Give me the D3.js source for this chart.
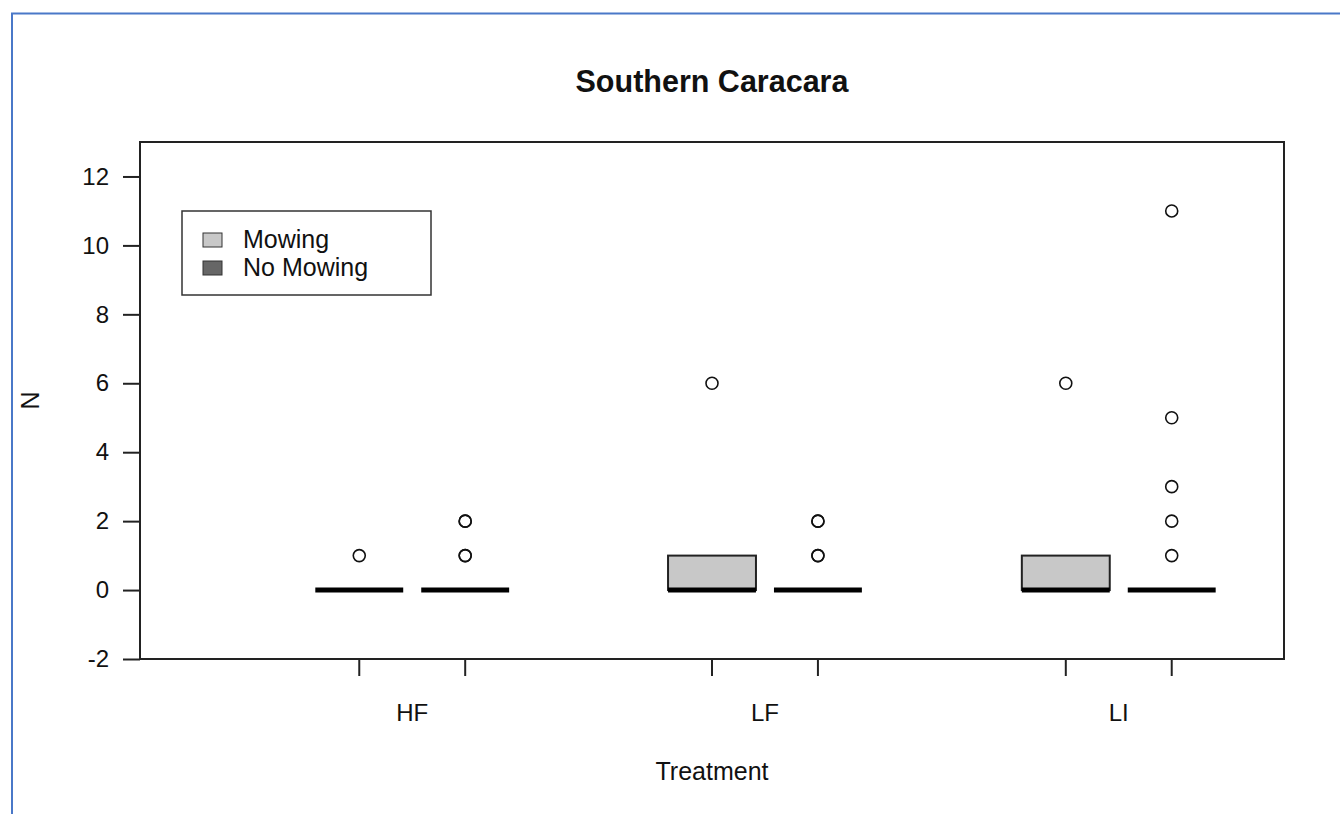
<!DOCTYPE html>
<html>
<head>
<meta charset="utf-8">
<script src="https://cdn.jsdelivr.net/npm/d3@7"></script>
<style>
  body { margin: 0; background: #fff; }
  text { font-family: "Liberation Sans", Arial, sans-serif; fill: #111; }
</style>
</head>
<body>
<div id="canvas"></div>
<script>
(function(){

    // data
    var treatments = ["HF", "LF", "LI"];
    var groups = ["Mowing", "No Mowing"];
    var groupFill = ["#c8c8c8", "#666666"];
    // box stats per treatment: [q1, median, q3] for Mowing and No Mowing
    var mowingBox = [[0, 0, 0], [0, 0, 1], [0, 0, 1]];
    var noMowingBox = [[0, 0, 0], [0, 0, 0], [0, 0, 0]];
    var mowingOutliers = [[1], [6], [6]];
    var noMowingOutliers = [[1, 1, 2, 2], [1, 1, 2, 2], [1, 2, 3, 5, 11]];
    var yTicks = [-2, 0, 2, 4, 6, 8, 10, 12];

    var width = 1340, height = 814;
    var plot = {left: 140, top: 142, right: 1284, bottom: 659};

    var svg = d3.select("#canvas")
                .append("svg")
                .attr("width", width)
                .attr("height", height);

    // outer blue frame
    svg.append("path")
       .attr("d", "M12," + height + "V13.5H" + width)
       .attr("fill", "none")
       .attr("stroke", "#4a78c8")
       .attr("stroke-width", 2);

    var y = d3.scaleLinear().domain([-2, 13]).range([plot.bottom, plot.top]);
    // box positions along x (units of one box spacing)
    var x = d3.scaleLinear().domain([-1.07, 9.73]).range([plot.left, plot.right]);
    var groupStart = [1, 4.33, 7.67];
    var boxW = x(0.83) - x(0);

    // title
    svg.append("text")
       .attr("x", (plot.left + plot.right) / 2)
       .attr("y", 92)
       .attr("text-anchor", "middle")
       .style("font-size", "30.5px")
       .style("font-weight", "bold")
       .text("Southern Caracara");

    // y axis
    var yAxis = svg.append("g")
       .attr("transform", "translate(" + plot.left + ",0)")
       .call(d3.axisLeft(y).tickValues(yTicks).tickSize(17).tickPadding(14)
               .tickFormat(function(d){ return String(d); }));
    yAxis.select(".domain").remove();
    yAxis.selectAll("line").attr("stroke", "#222").attr("stroke-width", 2);
    yAxis.selectAll("text").style("font-size", "24px").attr("fill", "#111")
         .style("font-family", "'Liberation Sans', Arial, sans-serif");

    // x ticks, one under each box
    var tickPos = [];
    groupStart.forEach(function(g){ tickPos.push(g, g + 1); });
    svg.selectAll(".xtick")
       .data(tickPos)
       .enter().append("line")
       .attr("x1", function(d){ return x(d); })
       .attr("x2", function(d){ return x(d); })
       .attr("y1", plot.bottom)
       .attr("y2", plot.bottom + 17)
       .attr("stroke", "#222")
       .attr("stroke-width", 2);

    svg.selectAll(".xlab")
       .data(treatments)
       .enter().append("text")
       .attr("x", function(d, i){ return x(groupStart[i] + 0.5); })
       .attr("y", 721)
       .attr("text-anchor", "middle")
       .style("font-size", "24px")
       .text(function(d){ return d; });

    svg.append("text")
       .attr("x", (plot.left + plot.right) / 2)
       .attr("y", 780)
       .attr("text-anchor", "middle")
       .style("font-size", "25px")
       .text("Treatment");

    svg.append("text")
       .attr("transform", "translate(39," + ((plot.top + plot.bottom) / 2) + ") rotate(-90)")
       .attr("text-anchor", "middle")
       .style("font-size", "25px")
       .text("N");

    // boxes
    var boxes = [];
    treatments.forEach(function(t, i){
        boxes.push({pos: groupStart[i], stats: mowingBox[i], out: mowingOutliers[i], fill: groupFill[0]});
        boxes.push({pos: groupStart[i] + 1, stats: noMowingBox[i], out: noMowingOutliers[i], fill: groupFill[1]});
    });

    for (var b of boxes) {
        var cx = x(b.pos);
        if (b.stats[2] > b.stats[0]) {
            svg.append("rect")
               .attr("x", cx - boxW / 2)
               .attr("y", y(b.stats[2]))
               .attr("width", boxW)
               .attr("height", y(b.stats[0]) - y(b.stats[2]))
               .attr("fill", b.fill)
               .attr("stroke", "#222")
               .attr("stroke-width", 2);
        }
        svg.append("line")
           .attr("x1", cx - boxW / 2)
           .attr("x2", cx + boxW / 2)
           .attr("y1", y(b.stats[1]))
           .attr("y2", y(b.stats[1]))
           .attr("stroke", "#000")
           .attr("stroke-width", 5);

        for (var o of b.out) {
            svg.append("circle")
               .attr("cx", cx)
               .attr("cy", y(o))
               .attr("r", 6)
               .attr("fill", "none")
               .attr("stroke", "#111")
               .attr("stroke-width", 1.6);
        }
    }

    // plot frame
    svg.append("rect")
       .attr("x", plot.left)
       .attr("y", plot.top)
       .attr("width", plot.right - plot.left)
       .attr("height", plot.bottom - plot.top)
       .attr("fill", "none")
       .attr("stroke", "#222")
       .attr("stroke-width", 2);

    // legend
    var legend = svg.append("g").attr("transform", "translate(182,211)");
    legend.append("rect")
          .attr("width", 249)
          .attr("height", 84)
          .attr("fill", "#fff")
          .attr("stroke", "#333")
          .attr("stroke-width", 1.5);
    var item = legend.selectAll(".legend")
          .data(groups)
          .enter().append("g")
          .attr("class", "legend")
          .attr("transform", function(d, i){ return "translate(0," + (i * 28) + ")"; });
    item.append("rect")
        .attr("x", 21)
        .attr("y", 22)
        .attr("width", 19)
        .attr("height", 14)
        .attr("fill", function(d, i){ return groupFill[i]; })
        .attr("stroke", "#333")
        .attr("stroke-width", 1);
    item.append("text")
        .attr("x", 61)
        .attr("y", 37)
        .style("font-size", "25px")
        .text(function(d){ return d; });

})();
</script>
</body>
</html>
